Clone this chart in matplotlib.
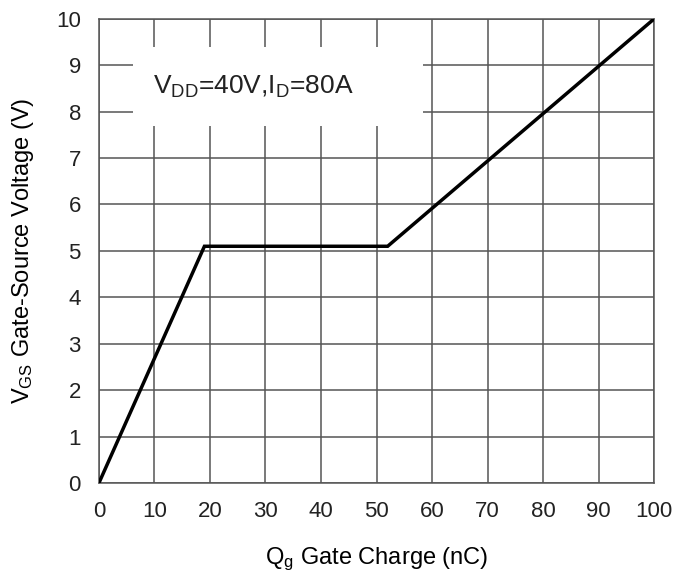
import numpy as np
import matplotlib
matplotlib.use("Agg")
import matplotlib.pyplot as plt
from matplotlib.patches import Rectangle

plt.rcParams['font.family'] = ['Liberation Sans', 'DejaVu Sans']
plt.rcParams['mathtext.default'] = 'regular'

# gate charge curve (nC, V)
qg = [0, 19, 52, 100]
vgs = [0, 5.1, 5.1, 10]

x_ticks = list(range(0, 101, 10))
y_ticks = list(range(0, 11))

GRID = '#555555'
TXT = '#222222'

fig = plt.figure(figsize=(6.73, 5.78), dpi=100)
ax = fig.add_axes([0.147, 0.1644, 0.825, 0.803])

ax.set_xlim(0, 100)
ax.set_ylim(0, 10)
ax.set_xticks(x_ticks)
ax.set_yticks(y_ticks)
ax.grid(True, color=GRID, linewidth=1.1, zorder=1)
ax.set_axisbelow(True)
for sp in ax.spines.values():
    sp.set_color(GRID)
    sp.set_linewidth(1.1)

ax.tick_params(length=0, labelsize=16, labelcolor=TXT, pad=13)

# white box behind the test condition text
ax.add_patch(Rectangle((6.1, 7.7), 52.3, 1.7, facecolor='white',
                       edgecolor='none', zorder=2))
ax.text(9.7, 8.38, 'V$_{DD}$=40V,I$_{D}$=80A', fontsize=19,
        va='baseline', ha='left', color=TXT, zorder=3)

ax.plot(qg, vgs, color='black', linewidth=2.5, zorder=4,
        solid_joinstyle='miter')

ax.set_xlabel('Q$_{g}$ Gate Charge (nC)', fontsize=17, color='black')
ax.set_ylabel('V$_{GS}$ Gate-Source Voltage (V)', fontsize=17, color='black')
ax.xaxis.set_label_coords(0.5, -0.134)
ax.yaxis.set_label_coords(-0.114, 0.50)

fig.savefig('out.png', dpi=100)
